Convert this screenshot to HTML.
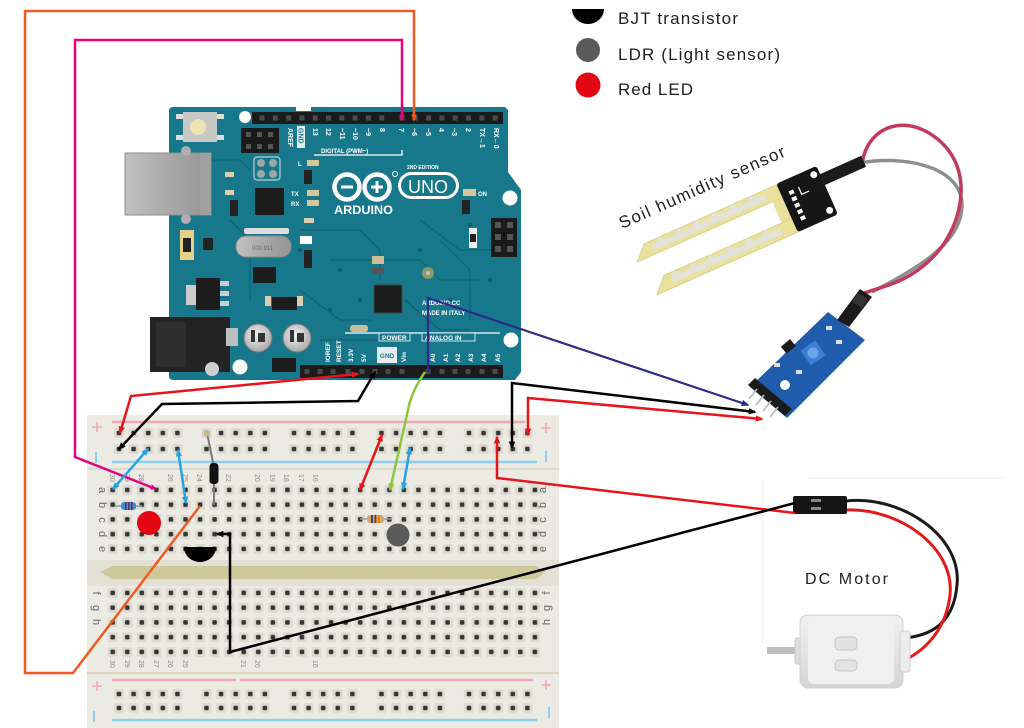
<!DOCTYPE html>
<html><head><meta charset="utf-8"><style>
html,body{margin:0;padding:0;background:#fff;}
svg{display:block;font-family:"Liberation Sans",sans-serif;}
</style></head><body>
<svg width="1024" height="728" viewBox="0 0 1024 728" xmlns="http://www.w3.org/2000/svg">
<defs>
  <pattern id="hm1" patternUnits="userSpaceOnUse" x="105.42" y="482.6" width="14.56" height="14.75">
    <rect x="2.3" y="2.4" width="10" height="10" rx="2" fill="#dddbd0"/>
    <rect x="5.03" y="5.1" width="4.5" height="4.5" rx="1" fill="#353535"/>
  </pattern>
  <pattern id="hm2" patternUnits="userSpaceOnUse" x="105.42" y="585.6" width="14.56" height="14.75">
    <rect x="2.3" y="2.4" width="10" height="10" rx="2" fill="#dddbd0"/>
    <rect x="5.03" y="5.1" width="4.5" height="4.5" rx="1" fill="#353535"/>
  </pattern>
  <pattern id="hr1" patternUnits="userSpaceOnUse" x="111.7" y="425" width="87.5" height="16">
    <g fill="#dddbd0"><rect x="2.3" y="3" width="10" height="10" rx="2"/><rect x="16.9" y="3" width="10" height="10" rx="2"/><rect x="31.5" y="3" width="10" height="10" rx="2"/><rect x="46.1" y="3" width="10" height="10" rx="2"/><rect x="60.7" y="3" width="10" height="10" rx="2"/></g>
    <g fill="#353535"><rect x="5.05" y="5.75" width="4.5" height="4.5" rx="1"/><rect x="19.65" y="5.75" width="4.5" height="4.5" rx="1"/><rect x="34.25" y="5.75" width="4.5" height="4.5" rx="1"/><rect x="48.85" y="5.75" width="4.5" height="4.5" rx="1"/><rect x="63.45" y="5.75" width="4.5" height="4.5" rx="1"/></g>
  </pattern>
  <pattern id="hr2" patternUnits="userSpaceOnUse" x="111.7" y="687" width="87.5" height="14">
    <g fill="#dddbd0"><rect x="2.3" y="2" width="10" height="10" rx="2"/><rect x="16.9" y="2" width="10" height="10" rx="2"/><rect x="31.5" y="2" width="10" height="10" rx="2"/><rect x="46.1" y="2" width="10" height="10" rx="2"/><rect x="60.7" y="2" width="10" height="10" rx="2"/></g>
    <g fill="#353535"><rect x="5.05" y="4.75" width="4.5" height="4.5" rx="1"/><rect x="19.65" y="4.75" width="4.5" height="4.5" rx="1"/><rect x="34.25" y="4.75" width="4.5" height="4.5" rx="1"/><rect x="48.85" y="4.75" width="4.5" height="4.5" rx="1"/><rect x="63.45" y="4.75" width="4.5" height="4.5" rx="1"/></g>
  </pattern>
  <linearGradient id="silver" x1="0" y1="0" x2="1" y2="0">
    <stop offset="0" stop-color="#c2c2c2"/><stop offset="0.5" stop-color="#a9a9a9"/><stop offset="1" stop-color="#959595"/>
  </linearGradient>
  <radialGradient id="cap" cx="0.45" cy="0.4" r="0.6">
    <stop offset="0" stop-color="#f2f2f2"/><stop offset="1" stop-color="#a9a9a9"/>
  </radialGradient>
  <linearGradient id="motor" x1="0" y1="0" x2="0" y2="1">
    <stop offset="0" stop-color="#f1f1f1"/><stop offset="0.5" stop-color="#e4e4e4"/><stop offset="1" stop-color="#d4d4d4"/>
  </linearGradient>
  <marker id="mR" viewBox="0 0 10 10" refX="8" refY="5" markerUnits="userSpaceOnUse" markerWidth="8" markerHeight="8" orient="auto-start-reverse"><path d="M0,1 L10,5 L0,9z" fill="#e8141b"/></marker>
  <marker id="mK" viewBox="0 0 10 10" refX="8" refY="5" markerUnits="userSpaceOnUse" markerWidth="8" markerHeight="8" orient="auto-start-reverse"><path d="M0,1 L10,5 L0,9z" fill="#000"/></marker>
  <marker id="mB" viewBox="0 0 10 10" refX="8" refY="5" markerUnits="userSpaceOnUse" markerWidth="8" markerHeight="8" orient="auto-start-reverse"><path d="M0,1 L10,5 L0,9z" fill="#29a3de"/></marker>
  <marker id="mG" viewBox="0 0 10 10" refX="8" refY="5" markerUnits="userSpaceOnUse" markerWidth="8" markerHeight="8" orient="auto-start-reverse"><path d="M0,1 L10,5 L0,9z" fill="#8cc63f"/></marker>
  <marker id="mP" viewBox="0 0 10 10" refX="8" refY="5" markerUnits="userSpaceOnUse" markerWidth="8" markerHeight="8" orient="auto-start-reverse"><path d="M0,1 L10,5 L0,9z" fill="#2e2a8e"/></marker>
  <marker id="mO" viewBox="0 0 10 10" refX="8" refY="5" markerUnits="userSpaceOnUse" markerWidth="7" markerHeight="7" orient="auto-start-reverse"><path d="M0,1 L10,5 L0,9z" fill="#f05a24"/></marker>
  <marker id="mM" viewBox="0 0 10 10" refX="8" refY="5" markerUnits="userSpaceOnUse" markerWidth="7" markerHeight="7" orient="auto-start-reverse"><path d="M0,1 L10,5 L0,9z" fill="#e6007e"/></marker>
</defs>

<rect width="1024" height="728" fill="#fff"/>

<!-- ===== Legend ===== -->
<path d="M572,9 H604 A16,15 0 0 1 572,9 Z" fill="#000"/>
<text x="618" y="24" font-size="17" fill="#1e1e1e" textLength="120" lengthAdjust="spacing">BJT transistor</text>
<circle cx="588" cy="50" r="12" fill="#5a5a5a"/>
<text x="618" y="60" font-size="17" fill="#1e1e1e" textLength="162" lengthAdjust="spacing">LDR (Light sensor)</text>
<circle cx="588" cy="85" r="12.5" fill="#e30613"/>
<text x="618" y="95" font-size="17" fill="#1e1e1e" textLength="75" lengthAdjust="spacing">Red LED</text>

<!-- ===== Breadboard ===== -->
<rect x="87" y="415" width="472" height="313" fill="#ebeae3"/>
<line x1="87" y1="469" x2="559" y2="469" stroke="#d6d4c8" stroke-width="1.5"/>
<line x1="87" y1="673" x2="559" y2="673" stroke="#d8d1ad" stroke-width="1.5"/>
<rect x="87" y="560" width="472" height="26" fill="#e3e1d6"/>
<polygon points="100,572 112,566 536,566 546,572 536,579 112,579" fill="#cfc89b"/>
<line x1="112" y1="422" x2="525" y2="422" stroke="#f2a7b5" stroke-width="2.5"/>
<line x1="112" y1="462" x2="537" y2="462" stroke="#8dcff0" stroke-width="2.5"/>
<line x1="112" y1="680" x2="236" y2="680" stroke="#f2a7b5" stroke-width="2.5"/>
<line x1="240" y1="680" x2="533" y2="680" stroke="#f2a7b5" stroke-width="2.5"/>
<line x1="112" y1="720" x2="537" y2="720" stroke="#8dcff0" stroke-width="2.5"/>
<g stroke="#f2a7b5" stroke-width="1.6"><path d="M92,427h10M97,422v10M541,428h10M546,423v10M92,686h10M97,681v10M541,685h10M546,680v10"/></g>
<g stroke="#8dcff0" stroke-width="2"><path d="M96,452v11M546,451v11M94,711v11M549,707v11"/></g>
<rect x="105.42" y="482.6" width="436.8" height="73.75" fill="url(#hm1)"/>
<rect x="105.42" y="585.6" width="436.8" height="73.75" fill="url(#hm2)"/>
<rect x="111.7" y="425" width="437.5" height="32" fill="url(#hr1)"/>
<rect x="111.7" y="687" width="437.5" height="28" fill="url(#hr2)"/>
<g font-size="11" fill="#666">
  <text transform="translate(99,490) rotate(90)" text-anchor="middle">a</text>
  <text transform="translate(99,505) rotate(90)" text-anchor="middle">b</text>
  <text transform="translate(99,520) rotate(90)" text-anchor="middle">c</text>
  <text transform="translate(99,534) rotate(90)" text-anchor="middle">d</text>
  <text transform="translate(99,549) rotate(90)" text-anchor="middle">e</text>
  <text transform="translate(93,593) rotate(90)" text-anchor="middle">f</text>
  <text transform="translate(93,608) rotate(90)" text-anchor="middle">g</text>
  <text transform="translate(93,622) rotate(90)" text-anchor="middle">h</text>
  <text transform="translate(546,490) rotate(-90)" text-anchor="middle">a</text>
  <text transform="translate(546,505) rotate(-90)" text-anchor="middle">b</text>
  <text transform="translate(546,520) rotate(-90)" text-anchor="middle">c</text>
  <text transform="translate(546,534) rotate(-90)" text-anchor="middle">d</text>
  <text transform="translate(546,549) rotate(-90)" text-anchor="middle">e</text>
  <text transform="translate(550,593) rotate(-90)" text-anchor="middle">f</text>
  <text transform="translate(550,608) rotate(-90)" text-anchor="middle">g</text>
  <text transform="translate(550,622) rotate(-90)" text-anchor="middle">h</text>
</g>
<g font-size="7" fill="#8a8a8a">
  <text transform="translate(110,474) rotate(90)">30</text><text transform="translate(125,474) rotate(90)">29</text><text transform="translate(139,474) rotate(90)">28</text>
  <text transform="translate(168,474) rotate(90)">26</text><text transform="translate(183,474) rotate(90)">25</text><text transform="translate(197,474) rotate(90)">24</text>
  <text transform="translate(226,474) rotate(90)">22</text><text transform="translate(255,474) rotate(90)">20</text><text transform="translate(270,474) rotate(90)">19</text>
  <text transform="translate(284,474) rotate(90)">18</text><text transform="translate(299,474) rotate(90)">17</text><text transform="translate(313,474) rotate(90)">16</text>
  <text transform="translate(110,660) rotate(90)">30</text><text transform="translate(125,660) rotate(90)">29</text><text transform="translate(139,660) rotate(90)">28</text>
  <text transform="translate(154,660) rotate(90)">27</text><text transform="translate(168,660) rotate(90)">26</text><text transform="translate(183,660) rotate(90)">25</text>
  <text transform="translate(241,660) rotate(90)">21</text><text transform="translate(255,660) rotate(90)">20</text><text transform="translate(313,660) rotate(90)">16</text>
</g>

<!-- ===== Arduino ===== -->
<rect x="297" y="104" width="14" height="6" fill="#fff"/>
<path d="M169,111 Q169,107 173,107 H296 V111 H311 V107 H505 L508,110 V172 L521,190 V372 L515,380 H173 Q169,380 169,376 Z" fill="#17788b"/>
<g stroke="#12606f" stroke-width="1.2" fill="none" opacity="0.9">
  <path d="M300,230 H360 L380,250 V280"/><path d="M330,260 H420 L440,280 H480"/><path d="M300,290 L340,320 H372"/>
  <path d="M405,300 L440,330 H470"/><path d="M420,220 L460,250 H500"/><path d="M230,220 L250,240 V300"/>
  <path d="M320,340 H400"/><path d="M440,240 L470,270 V320"/><path d="M200,160 H240 L250,170"/>
</g>
<g fill="#0f5868">
  <circle cx="300" cy="250" r="2"/><circle cx="340" cy="270" r="2"/><circle cx="420" cy="250" r="2"/><circle cx="450" cy="300" r="2"/>
  <circle cx="360" cy="300" r="2"/><circle cx="470" cy="225" r="2"/><circle cx="330" cy="310" r="2"/><circle cx="490" cy="280" r="2"/>
</g>
<circle cx="245" cy="117" r="6" fill="#fff"/>
<circle cx="510" cy="198" r="7.5" fill="#fff"/>
<circle cx="511" cy="340" r="7.5" fill="#fff"/>
<circle cx="240" cy="367" r="7.5" fill="#fff"/>
<rect x="183" y="112" width="34" height="30" fill="#c8c8c4"/>
<rect x="176" y="114" width="7" height="5" fill="#ddd"/><rect x="176" y="135" width="7" height="5" fill="#ddd"/>
<rect x="217" y="114" width="7" height="5" fill="#ddd"/><rect x="217" y="135" width="7" height="5" fill="#ddd"/>
<circle cx="198" cy="127" r="8" fill="#efe3b3"/>
<rect x="241" y="128" width="38" height="25" fill="#1a1a1a"/>
<g fill="#555"><rect x="246" y="132" width="5" height="5"/><rect x="257" y="132" width="5" height="5"/><rect x="268" y="132" width="5" height="5"/><rect x="246" y="144" width="5" height="5"/><rect x="257" y="144" width="5" height="5"/><rect x="268" y="144" width="5" height="5"/></g>
<rect x="254" y="157" width="26" height="23" rx="3" fill="none" stroke="#bfcfd3" stroke-width="1.2"/>
<g fill="#9ba6a8"><circle cx="261" cy="163" r="4"/><circle cx="273" cy="163" r="4"/><circle cx="261" cy="174" r="4"/><circle cx="273" cy="174" r="4"/></g>
<rect x="255" y="188" width="29" height="27" fill="#1b1b1b"/>
<rect x="225" y="172" width="9" height="5" fill="#d8cfb0"/><rect x="225" y="190" width="9" height="5" fill="#d8cfb0"/>
<rect x="230" y="200" width="8" height="16" fill="#222"/>
<rect x="180" y="230" width="14" height="30" fill="#e6d08a"/><rect x="183" y="238" width="8" height="14" fill="#222"/>
<rect x="203" y="238" width="10" height="12" fill="#222"/>
<rect x="244" y="228" width="45" height="6" fill="#ddd" rx="2"/>
<rect x="236" y="236" width="55" height="21" rx="10" fill="url(#silver)" stroke="#888"/>
<text x="252" y="250" font-size="6" fill="#666">000 911</text>
<g fill="#d8c49a"><rect x="307" y="160" width="12" height="6"/><rect x="307" y="190" width="12" height="6"/><rect x="307" y="200" width="12" height="6"/></g>
<g font-size="6" fill="#fff" font-weight="bold"><text x="298" y="166">L</text><text x="291" y="196">TX</text><text x="291" y="206">RX</text></g>
<rect x="304" y="170" width="8" height="14" fill="#222"/><rect x="304" y="250" width="8" height="18" fill="#222"/>
<rect x="300" y="236" width="12" height="8" fill="#fff"/><rect x="304" y="218" width="10" height="5" fill="#d8cfb0"/>
<rect x="186" y="285" width="12" height="20" fill="#ccc"/>
<rect x="196" y="278" width="24" height="32" fill="#1d1d1d"/>
<g fill="#ccc"><rect x="220" y="281" width="9" height="5"/><rect x="220" y="291" width="9" height="5"/><rect x="220" y="301" width="9" height="5"/></g>
<rect x="253" y="267" width="23" height="16" fill="#1d1d1d"/>
<rect x="272" y="297" width="25" height="13" fill="#1d1d1d"/>
<rect x="265" y="296" width="6" height="10" fill="#d8cfb0"/><rect x="297" y="296" width="6" height="10" fill="#d8cfb0"/>
<circle cx="258" cy="338" r="14" fill="url(#cap)" stroke="#777"/>
<circle cx="297" cy="338" r="14" fill="url(#cap)" stroke="#777"/>
<g fill="#333"><rect x="251" y="330" width="4" height="12"/><rect x="258" y="333" width="7" height="9"/><rect x="290" y="330" width="4" height="12"/><rect x="297" y="333" width="7" height="9"/></g>
<rect x="150" y="317" width="80" height="55" fill="#232323"/>
<rect x="156" y="322" width="30" height="45" fill="#2e2e2e"/>
<rect x="226" y="328" width="12" height="18" fill="#bdbdbd"/>
<circle cx="212" cy="369" r="7" fill="#cfcfcf"/>
<rect x="272" y="358" width="24" height="14" fill="#1d1d1d"/>
<rect x="350" y="325" width="18" height="7" rx="3" fill="#cbbd98"/>
<rect x="125" y="153" width="86" height="62" fill="url(#silver)" stroke="#8c8c8c"/>
<rect x="200" y="153" width="11" height="62" fill="#a0a0a0"/>
<circle cx="186" cy="151" r="5" fill="#b0b0b0"/><circle cx="186" cy="219" r="5" fill="#b0b0b0"/>
<rect x="374" y="285" width="28" height="28" fill="#1d1d1d" stroke="#444"/>
<rect x="372" y="256" width="12" height="8" fill="#cbbd98"/><rect x="372" y="268" width="12" height="6" fill="#555"/>
<circle cx="428" cy="273" r="6" fill="#8a9a6a"/><circle cx="428" cy="273" r="2" fill="#c4c8b0"/>
<rect x="491" y="218" width="26" height="39" fill="#1a1a1a"/>
<g fill="#555"><rect x="495" y="222" width="6" height="6"/><rect x="507" y="222" width="6" height="6"/><rect x="495" y="234" width="6" height="6"/><rect x="507" y="234" width="6" height="6"/><rect x="495" y="246" width="6" height="6"/><rect x="507" y="246" width="6" height="6"/></g>
<rect x="469" y="228" width="8" height="20" fill="#eee"/><rect x="470" y="234" width="6" height="8" fill="#222"/>
<rect x="463" y="189" width="13" height="7" fill="#d8c49a"/><text x="478" y="196" font-size="6" fill="#fff" font-weight="bold">ON</text>
<rect x="462" y="200" width="8" height="14" fill="#222"/>
<circle cx="347" cy="187" r="12.5" fill="none" stroke="#fff" stroke-width="4.5"/>
<circle cx="377" cy="187" r="12.5" fill="none" stroke="#fff" stroke-width="4.5"/>
<path d="M341,187h12M371,187h12M377,181v12" stroke="#fff" stroke-width="3"/>
<circle cx="395" cy="174" r="2.5" fill="none" stroke="#fff"/>
<rect x="398" y="172" width="61" height="27" rx="13.5" fill="#fff"/>
<rect x="401" y="175" width="55" height="21" rx="10.5" fill="#17788b"/>
<text x="428" y="193" font-size="18" fill="#fff" text-anchor="middle">UNO</text>
<text x="334" y="214" font-size="11.5" font-weight="bold" fill="#fff" textLength="59" lengthAdjust="spacingAndGlyphs">ARDUINO</text>
<text x="407" y="169" font-size="5" fill="#fff" font-weight="bold">2ND EDITION</text>
<text x="422" y="305" font-size="6" fill="#fff" font-weight="bold">ARDUINO.CC</text>
<text x="422" y="315" font-size="6" fill="#fff" font-weight="bold">MADE IN ITALY</text>
<rect x="252" y="112" width="251" height="12" fill="#1b1b1b"/>
<g fill="#4a4a4a">
  <rect x="259.5" y="115.5" width="5" height="5"/><rect x="272.8" y="115.5" width="5" height="5"/><rect x="286.1" y="115.5" width="5" height="5"/><rect x="299.4" y="115.5" width="5" height="5"/><rect x="312.7" y="115.5" width="5" height="5"/>
  <rect x="326" y="115.5" width="5" height="5"/><rect x="339.3" y="115.5" width="5" height="5"/><rect x="352.6" y="115.5" width="5" height="5"/><rect x="365.9" y="115.5" width="5" height="5"/><rect x="379.2" y="115.5" width="5" height="5"/>
  <rect x="399.5" y="115.5" width="5" height="5"/><rect x="412.8" y="115.5" width="5" height="5"/><rect x="426.1" y="115.5" width="5" height="5"/><rect x="439.4" y="115.5" width="5" height="5"/><rect x="452.7" y="115.5" width="5" height="5"/>
  <rect x="466" y="115.5" width="5" height="5"/><rect x="479.3" y="115.5" width="5" height="5"/><rect x="492.6" y="115.5" width="5" height="5"/>
</g>
<rect x="297" y="126" width="8" height="22" fill="#e8eef0"/>
<g font-size="7" fill="#fff" font-weight="bold">
  <text transform="translate(288,128) rotate(90)">AREF</text>
  <text transform="translate(298.5,128) rotate(90)" fill="#17788b">GND</text>
  <text transform="translate(313,128) rotate(90)">13</text><text transform="translate(326,128) rotate(90)">12</text>
  <text transform="translate(340,128) rotate(90)">~11</text><text transform="translate(353,128) rotate(90)">~10</text>
  <text transform="translate(366,128) rotate(90)">~9</text><text transform="translate(380,128) rotate(90)">8</text>
  <text transform="translate(399,128) rotate(90)">7</text><text transform="translate(412,128) rotate(90)">~6</text>
  <text transform="translate(426,128) rotate(90)">~5</text><text transform="translate(439,128) rotate(90)">4</text>
  <text transform="translate(452,128) rotate(90)">~3</text><text transform="translate(466,128) rotate(90)">2</text>
  <text transform="translate(480,128) rotate(90)">TX→1</text><text transform="translate(494,128) rotate(90)">RX←0</text>
</g>
<path d="M314,155 H402 V150" stroke="#fff" stroke-width="1.3" fill="none"/>
<text x="321" y="153" font-size="6" fill="#fff" font-weight="bold">DIGITAL (PWM~)</text>
<line x1="345" y1="333" x2="500" y2="333" stroke="#fff" stroke-width="1.2"/>
<rect x="379" y="333" width="31" height="8" fill="#17788b" stroke="#fff" stroke-width="0.8"/>
<text x="382" y="340" font-size="6.5" fill="#fff" font-weight="bold">POWER</text>
<rect x="422" y="333" width="53" height="8" fill="#17788b" stroke="#fff" stroke-width="0.8"/>
<text x="425" y="340" font-size="6.5" fill="#fff" font-weight="bold">ANALOG IN</text>
<rect x="377" y="347" width="20" height="16" fill="#e8eef0"/>
<text x="387" y="358" font-size="6.5" fill="#17788b" text-anchor="middle" font-weight="bold">GND</text>
<g font-size="6.5" fill="#fff" font-weight="bold">
  <text transform="translate(330,362) rotate(-90)">IOREF</text><text transform="translate(341,362) rotate(-90)">RESET</text>
  <text transform="translate(353,362) rotate(-90)">3.3V</text><text transform="translate(366,362) rotate(-90)">5V</text>
  <text transform="translate(406,362) rotate(-90)">Vin</text>
  <text transform="translate(435,362) rotate(-90)">A0</text><text transform="translate(448,362) rotate(-90)">A1</text>
  <text transform="translate(460,362) rotate(-90)">A2</text><text transform="translate(473,362) rotate(-90)">A3</text>
  <text transform="translate(486,362) rotate(-90)">A4</text><text transform="translate(500,362) rotate(-90)">A5</text>
</g>
<rect x="300" y="365" width="203" height="13" fill="#1b1b1b"/>
<g fill="#4a4a4a">
  <rect x="304.5" y="369" width="5" height="5"/><rect x="317.5" y="369" width="5" height="5"/><rect x="330.5" y="369" width="5" height="5"/><rect x="345.5" y="369" width="5" height="5"/>
  <rect x="359.5" y="369" width="5" height="5"/><rect x="372.5" y="369" width="5" height="5"/><rect x="385.5" y="369" width="5" height="5"/><rect x="399.5" y="369" width="5" height="5"/>
  <rect x="425.5" y="369" width="5" height="5"/><rect x="439.5" y="369" width="5" height="5"/><rect x="452.5" y="369" width="5" height="5"/><rect x="465.5" y="369" width="5" height="5"/>
  <rect x="479.5" y="369" width="5" height="5"/><rect x="492.5" y="369" width="5" height="5"/>
</g>

<!-- ===== Soil sensor probe ===== -->
<path d="M860,163 C900,155 962,165 962,205 C962,240 925,265 872,292" stroke="#8e8e8e" stroke-width="3.5" fill="none"/>
<path d="M862,164 C868,122 912,112 944,145 C975,178 960,232 930,260 C905,284 882,286 862,294" stroke="#c23b5e" stroke-width="3.5" fill="none"/>
<g transform="translate(806,199) rotate(-24)">
  <rect x="-32" y="-25" width="14" height="52" fill="#e9e19c"/>
  <polygon points="-20,-25 -166,-25 -180,-11 -20,-11" fill="#e9e19c" stroke="#d6cc84" stroke-width="0.8"/>
  <polygon points="-20,12 -161,12 -175,27 -20,27" fill="#e9e19c" stroke="#d6cc84" stroke-width="0.8"/>
  <line x1="-36" y1="-18" x2="-160" y2="-18" stroke="#e2e2da" stroke-width="6"/>
  <line x1="-36" y1="19.5" x2="-155" y2="19.5" stroke="#e2e2da" stroke-width="6"/>
  <g fill="#e2e2da">
    <circle cx="-50" cy="-22" r="3"/><circle cx="-70" cy="-22" r="3"/><circle cx="-90" cy="-22" r="3"/><circle cx="-110" cy="-22" r="3"/><circle cx="-130" cy="-22" r="3"/><circle cx="-150" cy="-22" r="3"/>
    <circle cx="-50" cy="15" r="3"/><circle cx="-70" cy="15" r="3"/><circle cx="-90" cy="15" r="3"/><circle cx="-110" cy="15" r="3"/><circle cx="-130" cy="15" r="3"/><circle cx="-150" cy="15" r="3"/>
  </g>
  <rect x="-21" y="-26" width="44" height="53" rx="3" fill="#161616"/>
  <circle cx="17" cy="-19" r="3.5" fill="#fff"/><circle cx="17" cy="20" r="3.5" fill="#fff"/>
  <g fill="#fff"><rect x="-13" y="-14" width="5" height="4"/><rect x="-13" y="-7" width="5" height="4"/><rect x="-13" y="0" width="5" height="4"/><rect x="-13" y="7" width="5" height="4"/><rect x="-13" y="14" width="5" height="4"/></g>
  <path d="M-2,-14 v8 h8" stroke="#fff" stroke-width="1.2" fill="none"/>
  <rect x="20" y="-17" width="48" height="12" fill="#1b1b1b"/>
</g>
<text transform="translate(622,229) rotate(-24)" font-size="17" fill="#1e1e1e" textLength="180" lengthAdjust="spacing">Soil humidity sensor</text>

<!-- ===== Sensor module ===== -->
<polygon points="828,312 865,340 787,418 750,387" fill="#1f5cab"/>
<polygon points="748,385 785,416 792,409 755,378" fill="#1b1b1b"/>
<g stroke="#b9b9b9" stroke-width="1.8">
  <line x1="757" y1="389" x2="749" y2="399"/><line x1="764" y1="395" x2="756" y2="405"/><line x1="771" y1="401" x2="763" y2="411"/><line x1="778" y1="407" x2="770" y2="417"/>
</g>
<rect x="804" y="344" width="18" height="18" fill="#3c7fd8" transform="rotate(-35 813 353)"/>
<circle cx="813" cy="353" r="5.5" fill="#6ea3e6"/>
<circle cx="785" cy="385" r="5" fill="#fff"/>
<rect x="782" y="342" width="12" height="9" fill="#1b1b1b" transform="rotate(-40 788 346)"/>
<g fill="#dcdcdc"><rect x="796" y="370" width="6" height="4"/><rect x="774" y="363" width="6" height="4"/><rect x="836" y="340" width="6" height="4"/><rect x="826" y="326" width="6" height="4"/></g>
<polygon points="837,320 849,327 872,297 860,289" fill="#1b1b1b"/>
<polygon points="852,302 862,308 868,299 858,293" fill="#333"/>

<!-- ===== DC Motor ===== -->
<line x1="808" y1="478" x2="1003" y2="478" stroke="#e8e8e8" stroke-width="1"/>
<line x1="763" y1="480" x2="763" y2="643" stroke="#ececec" stroke-width="1"/>
<text x="805" y="584" font-size="16" fill="#1e1e1e" textLength="83" lengthAdjust="spacing">DC Motor</text>
<path d="M846,501 C900,495 962,535 957,585 C954,620 935,635 905,638" stroke="#1a1a1a" stroke-width="3" fill="none"/>
<path d="M846,510 C900,508 955,548 950,595 C946,630 925,650 905,660" stroke="#e01b1b" stroke-width="3" fill="none"/>
<rect x="793" y="496" width="54" height="18" rx="2" fill="#151515"/>
<g fill="#888"><rect x="811" y="499" width="10" height="3"/><rect x="811" y="507" width="10" height="3"/></g>
<rect x="767" y="647" width="33" height="7" fill="#bdbdbd"/>
<rect x="795" y="638" width="12" height="26" rx="2" fill="#dedede" stroke="#c8c8c8"/>
<rect x="800" y="615" width="103" height="73" rx="8" fill="url(#motor)" stroke="#d0d0d0"/>
<rect x="808" y="620" width="86" height="64" rx="6" fill="#f0f0f0"/>
<rect x="835" y="637" width="22" height="13" rx="4" fill="#e2e2e2" stroke="#c6c6c6"/>
<rect x="835" y="660" width="22" height="11" rx="4" fill="#e2e2e2" stroke="#c6c6c6"/>
<rect x="900" y="631" width="10" height="41" rx="3" fill="#ececec" stroke="#cfcfcf"/>

<!-- ===== Wires ===== -->
<g fill="none" stroke-linejoin="miter">
  <path d="M414,120 V11 H25 V673 H73 L200,506" stroke="#f05a24" stroke-width="2.5" marker-start="url(#mO)"/>
  <path d="M402,120 V40 H75 V457 L156,489" stroke="#e6007e" stroke-width="2.5" marker-start="url(#mM)" marker-end="url(#mM)"/>
  <path d="M358,374 L131,396 L120,433" stroke="#e8141b" stroke-width="2.5" marker-start="url(#mR)" marker-end="url(#mR)"/>
  <path d="M375,372 L358,401 L162,404 L119,449" stroke="#000" stroke-width="2.5" marker-start="url(#mK)" marker-end="url(#mK)"/>
  <path d="M425,372 Q411,392 408,410 L390,490" stroke="#8cc63f" stroke-width="2.5" marker-end="url(#mG)"/>
  <path d="M428,372 V298 L748,405" stroke="#2e2a8e" stroke-width="2.2" marker-end="url(#mP)"/>
  <path d="M512,448 V383 L755,412" stroke="#000" stroke-width="2.5" marker-start="url(#mK)" marker-end="url(#mK)"/>
  <path d="M528,435 V398 L762,419" stroke="#e8141b" stroke-width="2.5" marker-start="url(#mR)" marker-end="url(#mR)"/>
  <path d="M497,437 V478 L795,513" stroke="#e8141b" stroke-width="2.5" marker-start="url(#mR)"/>
  <path d="M217,534 H230 V652 L795,503" stroke="#000" stroke-width="2.5" marker-start="url(#mK)"/>
  <path d="M113,489 L148,449" stroke="#29a3de" stroke-width="2.5" marker-start="url(#mB)" marker-end="url(#mB)"/>
  <path d="M178,450 L186,503" stroke="#29a3de" stroke-width="2.5" marker-start="url(#mB)" marker-end="url(#mB)"/>
  <path d="M360,490 L382,435" stroke="#e8141b" stroke-width="2.5" marker-start="url(#mR)" marker-end="url(#mR)"/>
  <path d="M403,489 L410,448" stroke="#29a3de" stroke-width="2.5" marker-start="url(#mB)" marker-end="url(#mB)"/>
</g>

<!-- ===== Breadboard components ===== -->
<path d="M207,433 L214,467" stroke="#7a7a7a" stroke-width="2"/>
<path d="M214,483 V505" stroke="#7a7a7a" stroke-width="2"/>
<rect x="209.5" y="463" width="9" height="21" rx="3.5" fill="#111"/>
<rect x="204" y="431" width="6" height="5" fill="#c9b98a"/>
<line x1="115" y1="506" x2="142" y2="506" stroke="#999" stroke-width="1.5"/>
<rect x="121" y="502" width="15" height="8" rx="3" fill="#3f8fd6"/>
<g fill="#6b2a5a"><rect x="125" y="502" width="1.6" height="8"/><rect x="128" y="502" width="1.6" height="8"/><rect x="131" y="502" width="1.6" height="8"/></g>
<line x1="360" y1="519" x2="392" y2="519" stroke="#999" stroke-width="1.5"/>
<rect x="367" y="515" width="17" height="8" rx="3" fill="#d5a66a"/>
<g><rect x="371" y="515" width="1.8" height="8" fill="#2b3a8a"/><rect x="374.5" y="515" width="1.8" height="8" fill="#6b3a2a"/><rect x="378" y="515" width="1.8" height="8" fill="#e07b1a"/></g>
<circle cx="149" cy="523" r="12" fill="#e30613"/>
<circle cx="398" cy="535" r="11.5" fill="#5a5a5a"/>
<path d="M184,547 H216 A16,15 0 0 1 184,547 Z" fill="#000"/>
</svg>
</body></html>
